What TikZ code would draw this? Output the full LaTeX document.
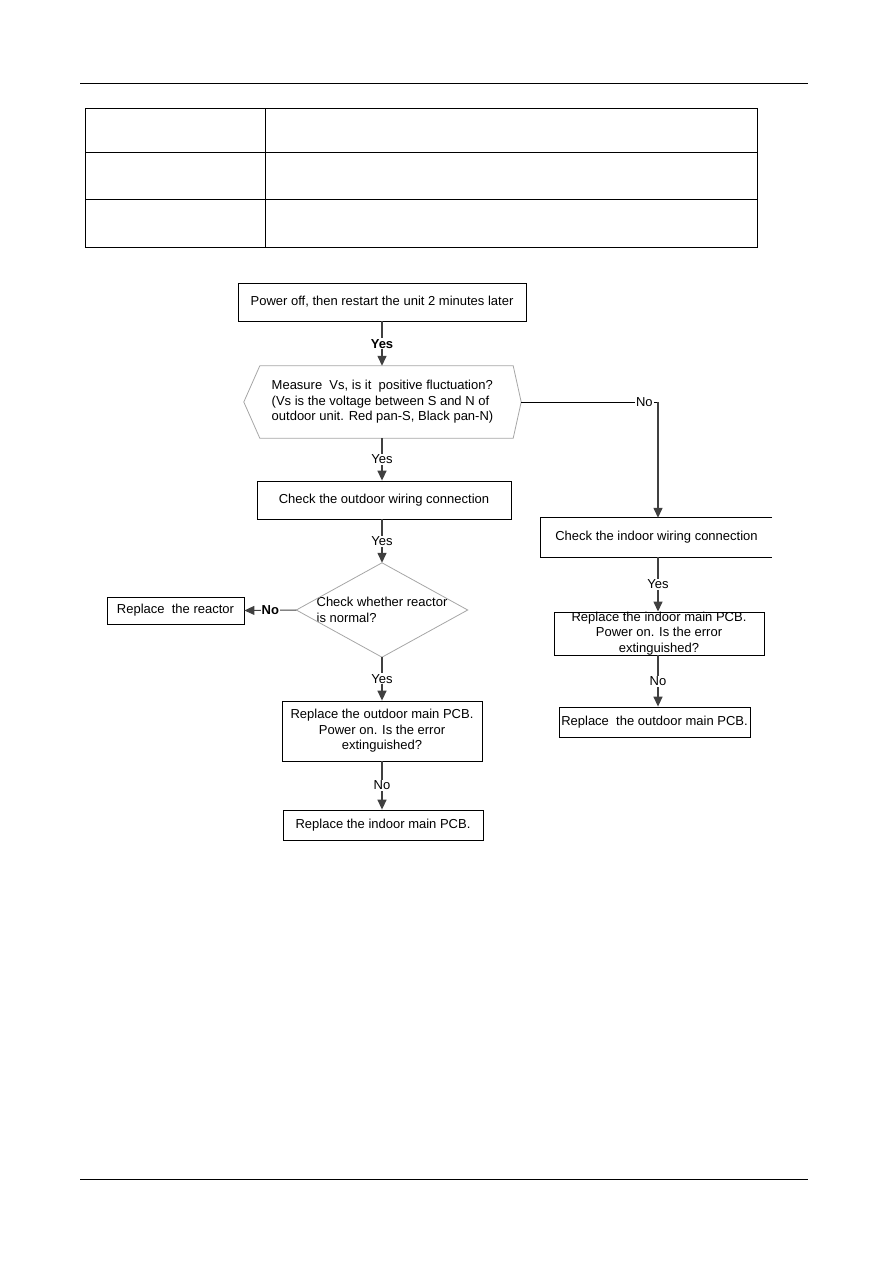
\documentclass[tikz,border=0pt]{standalone}
\usepackage{fontspec}
\setmainfont{Liberation Sans}
\usepackage{tikz}
\usetikzlibrary{arrows.meta}

\begin{document}
\begin{tikzpicture}[x=1pt,y=-1pt,
  every node/.style={font=\fontsize{13}{15.5}\selectfont},
  box/.style={draw=black,line width=0.8pt,inner sep=0pt,align=center},
  lbl/.style={fill=white,inner sep=1pt},
  flow/.style={draw=black!75,line width=1.4pt,-{Triangle[length=10pt,width=9pt]}}]
\useasboundingbox (0,0) rectangle (893,1263);
% page rules and empty table
\draw[line width=1pt] (80,83) -- (808,83);
\draw[line width=1pt] (80,1179) -- (808,1179);
\draw[line width=1pt] (85,108) rectangle (757,247);
\draw[line width=1pt] (265,108) -- (265,247);
\draw[line width=1pt] (85,152) -- (757,152);
\draw[line width=1pt] (85,199) -- (757,199);
% left column
\node[box,minimum width=288,minimum height=38] (power) at (382,302) {Power off, then restart the unit 2 minutes later};
\node[inner sep=0pt,minimum width=277,minimum height=72,align=left] (measure) at (382.5,402) {Measure\ \ Vs, is it\ \ positive fluctuation?\\(Vs is the voltage between S and N of\\outdoor unit. Red pan-S, Black pan-N)};
\draw[gray!70,line width=0.8pt] (measure.west) -- ([xshift=16]measure.north west) -- ([xshift=-8]measure.north east) -- (measure.east) -- ([xshift=-8]measure.south east) -- ([xshift=16]measure.south west) -- cycle;
\node[box,minimum width=254,minimum height=38] (outw) at (384,500) {Check the outdoor wiring connection};
\node[inner sep=0pt,minimum width=171,minimum height=94,align=left] (react) at (382,610) {Check whether reactor\\is normal?};
\draw[gray!70,line width=0.8pt] (react.north) -- (react.east) -- (react.south) -- (react.west) -- cycle;
\node[box,minimum width=137,minimum height=27] (rreact) at (175.5,610.5) {Replace\ \ the reactor};
\node[box,minimum width=200,minimum height=60] (outpcb) at (382,731) {Replace the outdoor main PCB.\\Power on. Is the error\\extinguished?};
\node[box,minimum width=200,minimum height=30] (inpcb) at (383,825) {Replace the indoor main PCB.};
% right column
\node[inner sep=0pt,minimum width=231,minimum height=39] (indw) at (656.5,537.5) {Check the indoor wiring connection};
\draw[line width=0.8pt] (indw.north east) -- (indw.north west) -- (indw.south west) -- (indw.south east);
\node[box,minimum width=210,minimum height=43] (inpcb2) at (659,633.5) {Replace the indoor main PCB.\\Power on. Is the error\\extinguished?};
\node[box,minimum width=191,minimum height=30] (outpcb2) at (654.5,722) {Replace\ \ the outdoor main PCB.};
% connectors
\draw[flow] (power.south) -- (power.south |- measure.north) node[lbl,midway]{\bfseries Yes};
\draw[flow] (power.south |- measure.south) -- (power.south |- outw.north) node[lbl,midway]{Yes};
\draw[flow] (react.north |- outw.south) -- (react.north) node[lbl,midway]{Yes};
\draw[flow,line width=1pt] (react.west) -- (rreact.east) node[lbl,midway]{\bfseries No};
\draw[flow] (react.south) -- (react.south |- outpcb.north) node[lbl,midway]{Yes};
\draw[flow] (outpcb.south) -- (outpcb.south |- inpcb.north) node[lbl,midway]{No};
\coordinate (noturn) at (658,402);
\draw[line width=0.8pt] (measure.east) -- (noturn) node[lbl,pos=0.9]{No};
\draw[flow] (noturn) -- (noturn |- indw.north);
\draw[flow] (noturn |- indw.south) -- (noturn |- inpcb2.north) node[lbl,midway]{Yes};
\draw[flow] (noturn |- inpcb2.south) -- (noturn |- outpcb2.north) node[lbl,midway]{No};
\end{tikzpicture}
\end{document}
